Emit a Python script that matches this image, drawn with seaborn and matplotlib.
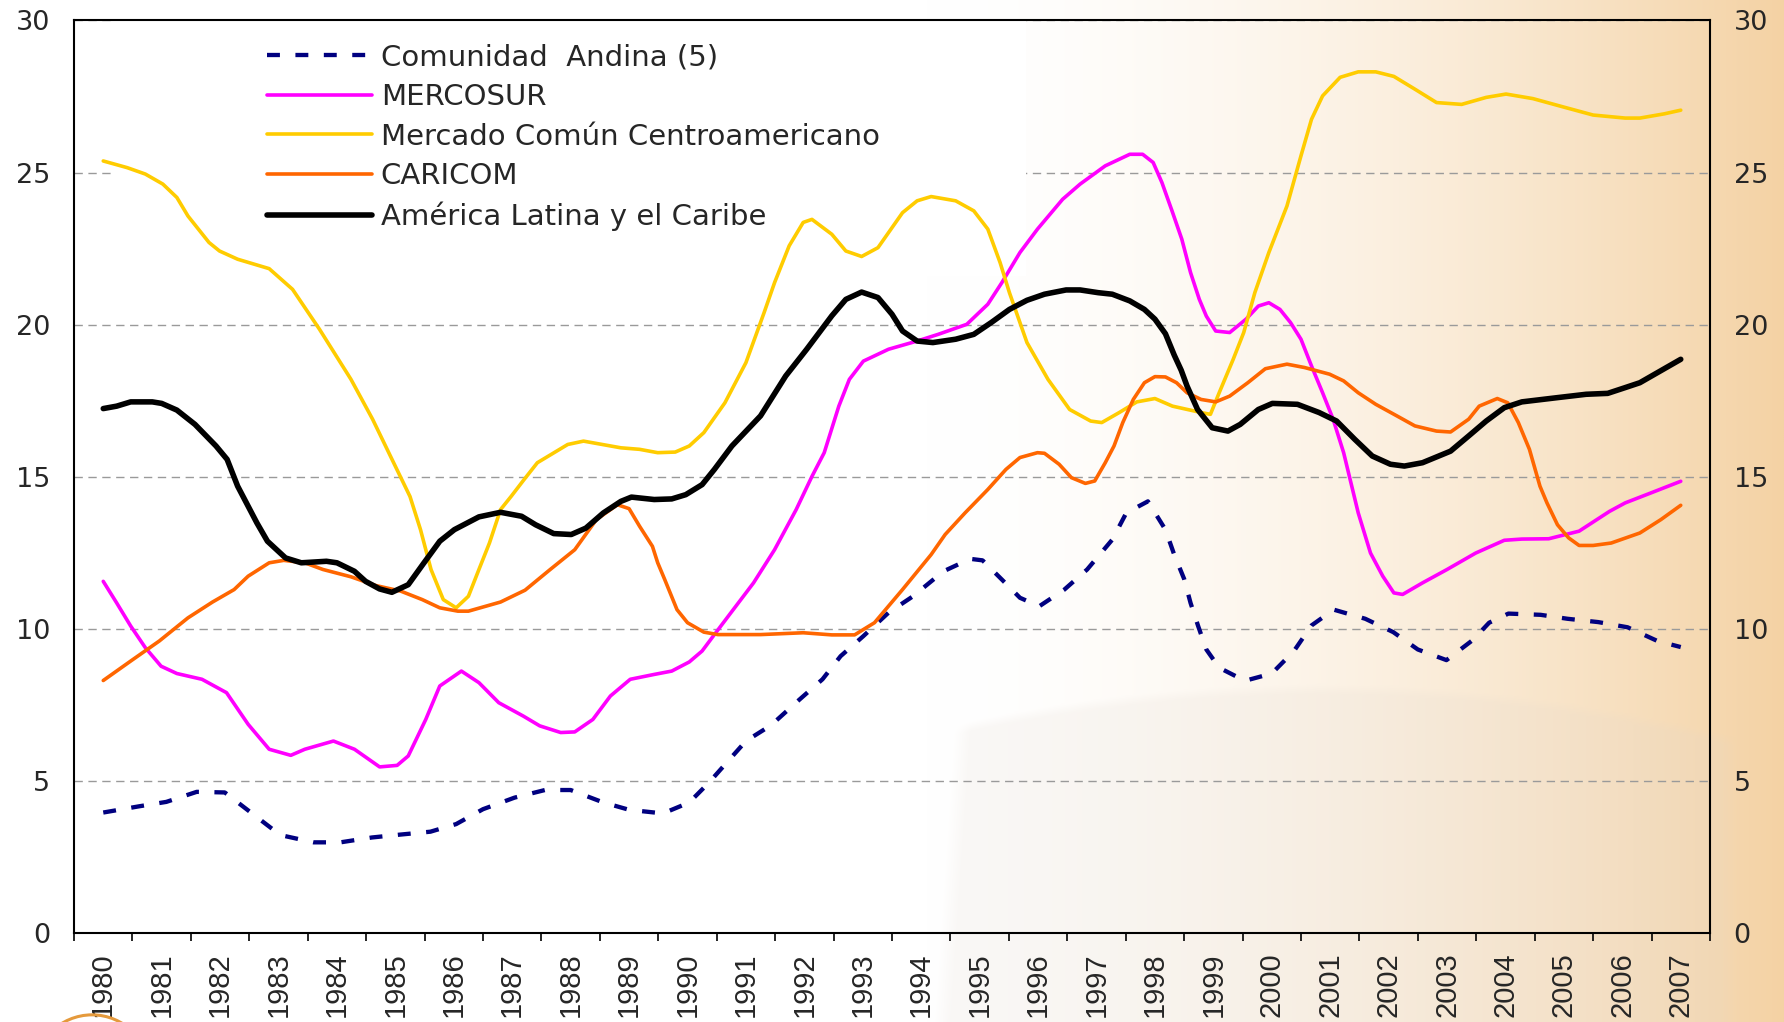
import numpy as np
import pandas as pd
import seaborn as sns
import matplotlib
matplotlib.use('Agg')
import matplotlib.pyplot as plt
from matplotlib.patches import Rectangle, Ellipse

# Data (fractional years, values)
years = list(range(1980, 2008))

andina_years = [1980.0, 1980.6, 1981.08, 1981.6, 1982.08, 1982.5, 1982.9, 1983.1, 1983.6, 1984.06,
                1984.6, 1985.06, 1985.6, 1986.04, 1986.5, 1987.04, 1987.56, 1988.0, 1988.56, 1989.0,
                1989.58, 1990.03, 1990.37, 1990.67, 1991.0, 1991.43, 1991.92, 1992.31, 1992.62, 1993.01,
                1993.44, 1993.86, 1994.38, 1994.84, 1995.05, 1995.38, 1995.69, 1996.02, 1996.45, 1996.84,
                1997.27, 1997.51, 1997.88, 1998.18, 1998.33, 1998.5, 1998.61, 1998.74, 1998.88, 1999.1,
                1999.54, 2000.0, 2000.38, 2000.68, 2001.06, 2001.6, 2002.08, 2002.5, 2002.99, 2003.44,
                2003.72, 2004.05, 2004.6, 2005.06, 2005.59, 2006.09, 2006.6, 2007.0]
andina_vals = [3.96, 4.16, 4.31, 4.64, 4.62, 4.0, 3.41, 3.19, 2.98, 2.98,
               3.14, 3.23, 3.33, 3.58, 4.07, 4.45, 4.70, 4.70, 4.29, 4.05,
               3.93, 4.29, 4.95, 5.60, 6.31, 6.83, 7.68, 8.34, 9.10, 9.76,
               10.53, 11.07, 11.89, 12.30, 12.25, 11.62, 11.02, 10.74, 11.29, 11.95,
               12.93, 13.81, 14.19, 13.26, 12.44, 11.64, 10.85, 10.09, 9.32, 8.72,
               8.29, 8.53, 9.27, 10.11, 10.63, 10.33, 9.89, 9.32, 8.97, 9.63,
               10.20, 10.50, 10.46, 10.33, 10.22, 10.05, 9.60, 9.40]

mercosur_years = [1980.0, 1980.23, 1980.47, 1980.72, 1980.99, 1981.26, 1981.69, 1982.11, 1982.48, 1982.84,
                  1983.21, 1983.45, 1983.94, 1984.30, 1984.73, 1985.03, 1985.22, 1985.52, 1985.76, 1986.13,
                  1986.43, 1986.77, 1987.19, 1987.47, 1987.83, 1988.07, 1988.38, 1988.68, 1989.02, 1989.43,
                  1989.73, 1990.03, 1990.25, 1990.46, 1990.70, 1991.13, 1991.49, 1991.86, 1992.13, 1992.34,
                  1992.59, 1992.77, 1993.01, 1993.44, 1993.93, 1994.29, 1994.78, 1995.14, 1995.38, 1995.69,
                  1995.99, 1996.42, 1996.72, 1997.15, 1997.57, 1997.79, 1997.97, 1998.12, 1998.30, 1998.46,
                  1998.61, 1998.76, 1998.88, 1999.04, 1999.28, 1999.56, 1999.77, 1999.95, 2000.14, 2000.32,
                  2000.50, 2000.68, 2000.87, 2001.05, 2001.23, 2001.48, 2001.69, 2001.90, 2002.09, 2002.24,
                  2002.58, 2003.0, 2003.49, 2003.98, 2004.28, 2004.74, 2005.26, 2005.78, 2006.05, 2006.48,
                  2007.0]
mercosur_vals = [11.56, 10.85, 10.09, 9.38, 8.77, 8.53, 8.34, 7.90, 6.86, 6.04,
                 5.84, 6.04, 6.31, 6.04, 5.46, 5.51, 5.82, 7.02, 8.12, 8.61,
                 8.23, 7.57, 7.13, 6.81, 6.59, 6.61, 7.02, 7.79, 8.34, 8.50,
                 8.61, 8.91, 9.27, 9.81, 10.42, 11.51, 12.60, 13.92, 15.01, 15.79,
                 17.32, 18.20, 18.80, 19.19, 19.46, 19.68, 20.01, 20.67, 21.38, 22.37,
                 23.14, 24.12, 24.62, 25.22, 25.60, 25.60, 25.33, 24.67, 23.70, 22.81,
                 21.71, 20.83, 20.28, 19.79, 19.74, 20.18, 20.61, 20.72, 20.50, 20.07,
                 19.52, 18.64, 17.76, 16.89, 15.79, 13.81, 12.49, 11.73, 11.18, 11.13,
                 11.51, 11.95, 12.49, 12.91, 12.95, 12.96, 13.21, 13.86, 14.14, 14.46,
                 14.85]

mcca_years = [1980.0, 1980.41, 1980.72, 1981.02, 1981.26, 1981.45, 1981.81, 1981.99, 1982.30, 1982.84,
              1983.24, 1983.70, 1984.24, 1984.61, 1984.97, 1985.25, 1985.43, 1985.61, 1985.82, 1986.04,
              1986.25, 1986.43, 1986.61, 1986.80, 1986.98, 1987.20, 1987.43, 1987.95, 1988.22, 1988.86,
              1989.18, 1989.49, 1989.79, 1990.03, 1990.28, 1990.64, 1991.0, 1991.31, 1991.49, 1991.74,
              1991.98, 1992.13, 1992.47, 1992.71, 1992.98, 1993.26, 1993.68, 1993.93, 1994.17, 1994.59,
              1994.90, 1995.14, 1995.35, 1995.51, 1995.81, 1996.17, 1996.54, 1996.90, 1997.09, 1997.39,
              1997.69, 1998.0, 1998.30, 1998.79, 1998.95, 1999.10, 1999.34, 1999.52, 1999.71, 1999.95,
              2000.26, 2000.50, 2000.68, 2000.87, 2001.17, 2001.48, 2001.78, 2002.09, 2002.45, 2002.82,
              2003.25, 2003.67, 2004.01, 2004.47, 2005.02, 2005.50, 2006.05, 2006.30, 2006.72, 2007.0]
mcca_vals = [25.38, 25.16, 24.95, 24.62, 24.18, 23.57, 22.70, 22.42, 22.15, 21.84,
             21.16, 19.85, 18.20, 16.89, 15.46, 14.35, 13.26, 11.95, 10.96, 10.69,
             11.07, 11.95, 12.82, 13.92, 14.35, 14.90, 15.46, 16.06, 16.17, 15.95,
             15.90, 15.79, 15.81, 16.01, 16.45, 17.43, 18.75, 20.39, 21.38, 22.59,
             23.36, 23.46, 22.97, 22.42, 22.24, 22.53, 23.68, 24.07, 24.21, 24.07,
             23.74, 23.14, 22.04, 21.05, 19.41, 18.20, 17.21, 16.83, 16.78, 17.11,
             17.46, 17.57, 17.32, 17.11, 17.05, 17.76, 18.86, 19.74, 21.05, 22.37,
             23.90, 25.55, 26.75, 27.52, 28.13, 28.31, 28.31, 28.16, 27.74, 27.30,
             27.24, 27.47, 27.58, 27.43, 27.14, 26.89, 26.79, 26.79, 26.93, 27.05]

caricom_years = [1980.0, 1980.47, 1980.96, 1981.45, 1981.87, 1982.24, 1982.48, 1982.84, 1983.09, 1983.45,
                 1983.76, 1984.24, 1984.67, 1985.09, 1985.46, 1985.76, 1986.07, 1986.25, 1986.80, 1987.22,
                 1987.65, 1988.07, 1988.44, 1988.80, 1989.0, 1989.18, 1989.40, 1989.49, 1989.61, 1989.82,
                 1990.0, 1990.28, 1990.52, 1991.25, 1991.98, 1992.47, 1992.86, 1993.20, 1993.68, 1994.17,
                 1994.41, 1994.75, 1995.14, 1995.45, 1995.69, 1995.99, 1996.11, 1996.36, 1996.57, 1996.81,
                 1996.97, 1997.15, 1997.30, 1997.45, 1997.63, 1997.82, 1998.0, 1998.18, 1998.37, 1998.55,
                 1998.79, 1999.04, 1999.28, 1999.59, 1999.89, 2000.26, 2000.56, 2000.99, 2001.23, 2001.48,
                 2001.78, 2002.15, 2002.45, 2002.82, 2003.06, 2003.37, 2003.55, 2003.86, 2004.04, 2004.22,
                 2004.41, 2004.59, 2004.71, 2004.89, 2005.08, 2005.26, 2005.50, 2005.81, 2006.30, 2006.66,
                 2007.0]
caricom_vals = [8.30, 8.94, 9.60, 10.36, 10.88, 11.29, 11.73, 12.17, 12.25, 12.17,
                11.95, 11.71, 11.42, 11.24, 10.96, 10.69, 10.58, 10.58, 10.88, 11.27,
                11.95, 12.60, 13.59, 14.08, 13.95, 13.37, 12.71, 12.17, 11.62, 10.63,
                10.20, 9.89, 9.81, 9.81, 9.87, 9.80, 9.80, 10.20, 11.29, 12.44,
                13.10, 13.81, 14.58, 15.24, 15.63, 15.79, 15.77, 15.41, 14.97, 14.78,
                14.86, 15.46, 16.01, 16.78, 17.54, 18.09, 18.29, 18.28, 18.09, 17.76,
                17.54, 17.46, 17.65, 18.09, 18.55, 18.70, 18.59, 18.37, 18.15, 17.76,
                17.38, 16.99, 16.67, 16.50, 16.47, 16.89, 17.32, 17.57, 17.43, 16.78,
                15.90, 14.69, 14.14, 13.42, 12.99, 12.74, 12.74, 12.82, 13.15, 13.59,
                14.06]

alc_years = [1980.0, 1980.23, 1980.47, 1980.84, 1981.0, 1981.26, 1981.57, 1981.93, 1982.12, 1982.30,
             1982.45, 1982.63, 1982.81, 1983.12, 1983.39, 1983.82, 1984.0, 1984.30, 1984.49, 1984.73,
             1984.94, 1985.22, 1985.49, 1985.76, 1986.01, 1986.43, 1986.80, 1987.16, 1987.40, 1987.71,
             1988.01, 1988.26, 1988.56, 1988.86, 1989.04, 1989.43, 1989.73, 1989.97, 1990.25, 1990.46,
             1990.76, 1991.25, 1991.68, 1992.04, 1992.47, 1992.71, 1992.98, 1993.26, 1993.50, 1993.68,
             1993.93, 1994.20, 1994.59, 1994.90, 1995.20, 1995.51, 1995.81, 1996.11, 1996.48, 1996.72,
             1997.03, 1997.27, 1997.57, 1997.82, 1998.0, 1998.18, 1998.33, 1998.45, 1998.55, 1998.73,
             1998.98, 1999.25, 1999.46, 1999.77, 2000.01, 2000.44, 2000.81, 2001.11, 2001.42, 2001.72,
             2002.03, 2002.27, 2002.58, 2003.06, 2003.37, 2003.67, 2003.98, 2004.28, 2004.89, 2005.38,
             2005.75, 2006.05, 2006.30, 2006.60, 2007.0]
alc_vals = [17.24, 17.32, 17.46, 17.46, 17.41, 17.19, 16.72, 16.01, 15.57, 14.69,
            14.14, 13.48, 12.88, 12.33, 12.17, 12.22, 12.17, 11.89, 11.56, 11.31,
            11.20, 11.45, 12.17, 12.88, 13.26, 13.68, 13.83, 13.70, 13.42, 13.13,
            13.10, 13.31, 13.81, 14.19, 14.33, 14.25, 14.27, 14.41, 14.74, 15.24,
            16.01, 17.00, 18.31, 19.19, 20.29, 20.83, 21.07, 20.89, 20.34, 19.79,
            19.46, 19.41, 19.52, 19.68, 20.07, 20.50, 20.80, 21.00, 21.14, 21.14,
            21.05, 21.00, 20.78, 20.50, 20.18, 19.70, 19.00, 18.50, 17.98, 17.21,
            16.61, 16.50, 16.72, 17.21, 17.41, 17.38, 17.11, 16.83, 16.23, 15.68,
            15.41, 15.35, 15.46, 15.84, 16.34, 16.83, 17.27, 17.46, 17.60, 17.71,
            17.74, 17.93, 18.09, 18.42, 18.86]

series = [
    ('Comunidad  Andina (5)', andina_years, andina_vals, '#000080', 3.1, (0, (3.0, 3.6))),
    ('MERCOSUR', mercosur_years, mercosur_vals, '#FF00FF', 2.6, '-'),
    ('Mercado Común Centroamericano', mcca_years, mcca_vals, '#FFCC00', 2.6, '-'),
    ('CARICOM', caricom_years, caricom_vals, '#FF6600', 2.6, '-'),
    ('América Latina y el Caribe', alc_years, alc_vals, '#000000', 4.0, '-'),
]

sns.set_style('white')
plt.rcParams['font.family'] = ['DejaVu Sans']

fig = plt.figure(figsize=(17.84, 10.22), dpi=100)

# Background: white on the left fading to peach on the right, faint building shape
H, W = 511, 892
X, Y = np.meshgrid(np.linspace(0, 1, W), np.linspace(0, 1, H))
t = np.clip((X - 0.52) / 0.48, 0, 1) ** 1.7
peach = np.array([244, 210, 164]) / 255
img = (1 - t[..., None]) * np.ones(3) + t[..., None] * peach


def soft(v, w=0.01):
    return np.clip(v / w + 0.5, 0, 1)


top = 0.675 + 0.05 * ((X - 0.74) / 0.23) ** 2
mask = soft(Y - top) * soft(X - (0.54 - 0.012 * (Y - 0.7) / 0.3)) * soft(0.97 - X)
shade = np.array([0.88, 0.84, 0.80])
img = img * (1 - 0.18 * mask[..., None]) + shade * 0.18 * mask[..., None]
bg = fig.add_axes([0, 0, 1, 1])
bg.imshow(img, aspect='auto', extent=[0, 1, 0, 1], interpolation='bilinear')
bg.axis('off')

# faint UN emblem peeking at the bottom-left corner
for w, h in [(0.066, 0.118), (0.045, 0.08), (0.024, 0.043)]:
    fig.patches.append(Ellipse((0.0516, -0.052), w, h, transform=fig.transFigure,
                               fill=False, edgecolor='#E59A3C', lw=2.2))

ax = fig.add_axes([0.0415, 0.0871, 0.917, 0.8929])
ax.set_facecolor('none')

for name, xs, vs, color, lw, ls in series:
    assert len(xs) == len(vs), name
    df = pd.DataFrame({'year': xs, 'value': vs})
    sns.lineplot(data=df, x='year', y='value', ax=ax, color=color, lw=lw,
                 linestyle=ls, label=name, estimator=None, sort=False, zorder=2)

# white legend area hides the gridline behind it
ax.add_patch(Rectangle((0.024, 0.72), 0.558, 0.28, transform=ax.transAxes,
                       facecolor='white', edgecolor='none', zorder=1))

ax.set_xlim(1979.5, 2007.5)
ax.set_ylim(0, 30)
ax.set_xlabel('')
ax.set_ylabel('')

ax.set_xticks(np.arange(1979.5, 2008.0, 1.0))
ax.set_xticklabels([])
ax.set_xticks(years, minor=True)
ax.set_xticklabels([str(y) for y in years], minor=True, rotation=90,
                   fontsize=21, family='Liberation Sans')
ax.tick_params(axis='x', which='major', direction='out', length=6, width=1.2, color='black', bottom=True)
ax.tick_params(axis='x', which='minor', length=0, pad=14, bottom=True)

ax.set_yticks(range(0, 31, 5))
ax.tick_params(axis='y', length=0, labelsize=19.5, left=False, right=False,
               labelleft=True, labelright=True, pad=17)

ax.set_axisbelow(True)
ax.yaxis.grid(True, color='#9a9a9a', linestyle=(0, (6, 4)), lw=1.0)
ax.xaxis.grid(False)
for side in ['left', 'right', 'top', 'bottom']:
    ax.spines[side].set_visible(True)
    ax.spines[side].set_color('black')
    ax.spines[side].set_linewidth(1.5)

ax.legend(loc='upper left', bbox_to_anchor=(0.118, 0.975), frameon=False, fontsize=21,
          handlelength=3.6, handletextpad=0.3, labelspacing=0.40, borderpad=0, borderaxespad=0)

fig.savefig('out.png', dpi=100)
